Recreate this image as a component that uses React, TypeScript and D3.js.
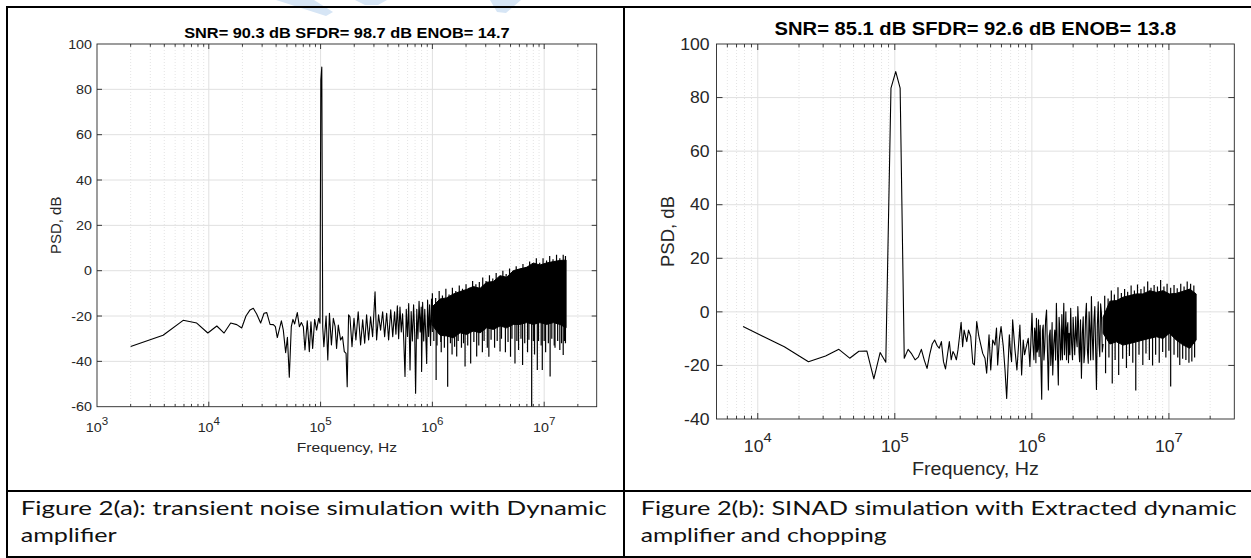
import React from 'react';
import * as d3 from 'd3';

// ---------- texts ----------
const titleA = 'SNR= 90.3 dB SFDR= 98.7 dB ENOB= 14.7';
const titleB = 'SNR= 85.1 dB SFDR= 92.6 dB ENOB= 13.8';
const xLabel = 'Frequency, Hz';
const yLabel = 'PSD, dB';
const captionA = ['Figure 2(a): transient noise simulation with Dynamic', 'amplifier'];
const captionB = ['Figure 2(b): SINAD simulation with Extracted dynamic', 'amplifier and chopping'];

// ---------- axes ----------
const xDomainA = [1e3, 2.95e7];
const yDomainA = [-60, 100];
const yTicksA = [-60, -40, -20, 0, 20, 40, 60, 80, 100];
const xDomainB = [5e3, 3e7];
const yDomainB = [-40, 100];
const yTicksB = [-40, -20, 0, 20, 40, 60, 80, 100];

// ---------- panel (a) data: [Hz, dB] ----------
const lineA: [number, number][] = [
  [2000, -33.4], [3900, -28.5], [5900, -21.9], [7800, -23.1], [9800, -27.5], [11800, -24.4],
  [13700, -27.5], [15700, -23.1], [17800, -23.8], [19700, -25.3], [21500, -20], [23400, -17.3],
  [25000, -16.6], [26800, -19.1], [29100, -23.1], [31200, -18.8], [33000, -18.5], [35300, -23.7],
  [37800, -23.8], [39400, -24.7], [41000, -29.5], [44600, -22.1], [46400, -26.2], [48700, -36.2],
  [50500, -29.4], [52500, -47.0], [54700, -24.7], [56600, -21.5], [58600, -23.5], [61900, -18.5],
  [64600, -24.7], [67300, -22.9], [70100, -24.7], [72500, -35], [76000, -22.1], [79300, -35.7],
  [82000, -22.5], [84900, -34.3], [88500, -21.5], [92200, -26.2], [96100, -21], [98800, -23.2],
  [100500, 84], [102500, 89.8], [104500, -25], [107000, -33.5], [112000, -20], [116000, -39.4],
  [120000, -18.8], [125000, -32.8], [130000, -21], [135000, -24.7], [139000, -34.3], [144000, -24],
  [151000, -30.6], [157000, -29.1], [163000, -35.7], [169000, -36.5], [173000, -51.2], [178000, -19.5],
  [183000, -20.3], [191000, -33.5], [199000, -21], [207000, -30.6], [217000, -18.1], [228000, -32.8],
  [238000, -21.7], [248000, -32], [258000, -19.5], [269000, -30.6], [280000, -20.3], [292000, -29.1],
  [307000, -9.3], [317000, -30.6], [330000, -19.5], [344000, -26.2], [359000, -18.1], [374000, -29.1],
  [390000, -18.8], [406000, -30.6], [424000, -17.3], [442000, -29.1], [459000, -18.1], [472000, -28],
  [486000, -15.5], [499000, -30], [513000, -16], [527000, -27], [541000, -19], [555000, -31],
  [569000, -46.7], [584000, -17], [599000, -29], [614000, -14.5], [631000, -43.8], [646000, -18],
  [662000, -31], [679000, -15], [695000, -28], [708000, -54.1], [725000, -17], [742000, -30],
  [760000, -13.5], [778000, -27], [795000, -16], [801000, -44.5], [818000, -14], [836000, -31],
  [855000, -17], [872000, -28], [889000, -40.9], [906000, -13], [925000, -29], [944000, -15],
  [963000, -33], [982000, -12.5], [1001000, -27],
];
// dense part: [Hz, upper dB, lower dB] of the solid black core
const bandA: [number, number, number][] = [
  [995000, -16, -24], [1170000, -12.5, -28.5], [1340000, -12, -28.8], [1540000, -10.3, -29.6],
  [1770000, -9.2, -27.4], [2020000, -8.3, -28.1], [2320000, -7.0, -26.6], [2670000, -7.8, -27.4],
  [3060000, -5.1, -25.2], [3510000, -4.8, -25.9], [4030000, -2.2, -24.4], [4610000, -2.9, -25.2],
  [5300000, 0, -23.7], [6070000, 0.8, -23.7], [6970000, 1.5, -22.9], [8000000, 3.4, -23.7],
  [9160000, 2.5, -22.9], [10500000, 3.4, -23.7], [12100000, 4.0, -22.9], [13800000, 4.5, -23.7],
  [15700000, 4.7, -25.2],
];
const dipsA: [number, number][] = [
  [1030000, -31], [1080000, -48.2], [1100000, -33], [1190000, -31.5], [1200000, -36], [1280000, -34],
  [1370000, -51.2], [1450000, -32], [1500000, -37], [1580000, -33.5], [1650000, -37.9], [1700000, -31],
  [1820000, -34], [1900000, -32], [1960000, -42.3], [2070000, -33], [2200000, -40.9], [2350000, -31.5],
  [2490000, -37.9], [2600000, -33], [2800000, -36], [2900000, -31], [3100000, -34], [3200000, -38],
  [3350000, -30.5], [3600000, -34], [3800000, -31], [4030000, -35.7], [4150000, -30], [4500000, -36],
  [4750000, -31.5], [5000000, -38], [5150000, -30], [5480000, -40.9], [5700000, -31], [5900000, -35],
  [6200000, -30], [6410000, -41.6], [6700000, -32], [7100000, -36], [7300000, -30.5], [7730000, -62],
  [8000000, -31], [8200000, -37], [8680000, -43.8], [8900000, -31], [9400000, -33], [9620000, -43.8],
  [10000000, -31], [10300000, -36], [10900000, -32], [11300000, -46.7], [11700000, -30], [12300000, -33],
  [12500000, -34], [13200000, -31], [13800000, -35], [14300000, -32], [14800000, -37.2], [15200000, -31],
  [15500000, -32],
];
const peaksA: [number, number][] = [
  [1000000, -10], [1070000, -12], [1150000, -9], [1230000, -11], [1320000, -8], [1410000, -10.5],
  [1510000, -7.5], [1620000, -9], [1740000, -6.5], [1860000, -8], [2000000, -6], [2140000, -7.5],
  [2290000, -4.5], [2450000, -6], [2630000, -5], [2820000, -3], [3020000, -4.5], [3240000, -2],
  [3470000, -3.5], [3720000, -1], [3980000, -2.5], [4270000, 0], [4570000, -1.5], [4900000, 1],
  [5250000, 0], [5620000, 2], [6030000, 0.5], [6460000, 3], [6920000, 1.5], [7410000, 4],
  [7940000, 3], [8510000, 5.5], [9120000, 3.5], [9770000, 5.5], [10500000, 4.5], [11200000, 6.5],
  [12000000, 5], [12900000, 7], [13800000, 5.5], [14800000, 7], [15500000, 6.5],
];

// ---------- panel (b) data ----------
const lineB: [number, number][] = [
  [7812, -5.5], [15625, -13.0], [23437, -18.6], [31250, -16.5], [39062, -14.0], [46875, -17.3],
  [54687, -14.7], [62500, -14.6], [70312, -25.0], [78125, -15.2], [85937, -18.8], [93750, 83.5],
  [101562, 89.7], [109375, 83.5], [117187, -17.3], [125000, -14.0], [132812, -15.7], [140625, -17.9],
  [148437, -16.9], [156250, -14.0], [164062, -18], [171875, -21.1], [179687, -16], [187500, -12],
  [195312, -10.5], [203125, -12.5], [210937, -13.6], [218750, -11.1], [226562, -18.6], [234375, -21.3],
  [242187, -16], [250000, -11.1], [257812, -17.9], [265625, -14.8], [273437, -16], [281250, -17.9],
  [289062, -14.2], [296875, -9], [304687, -3.9], [312500, -13.0], [320312, -6.8], [335000, -11.1],
  [345000, -6.8], [358000, -9.2], [371000, -19.2], [381000, -19.8], [396000, -3.6], [410000, -9],
  [419000, -11.1], [438000, -15.5], [455000, -17.3], [468000, -22.9], [487000, -8.6], [501000, -21.7],
  [518000, -10.5], [538000, -12.4], [552000, -6], [563000, -19.8], [580000, -10], [596000, -5.5],
  [619000, -13.0], [637000, -21.7], [655000, -32.3], [685000, -8.6], [698000, -15], [711000, -18.6],
  [724000, -3.0], [753000, -14.2], [778000, -21.7], [818000, -4.9], [842000, -23.6], [865000, -10.5],
  [885000, -16], [905000, -13.6], [941000, -9.9], [968000, -20.4], [1002000, -0.5], [1018000, -12],
  [1035000, -17.9], [1048000, -6], [1060000, -8], [1070000, -19], [1080000, -2.4], [1092000, -15],
  [1105000, -14], [1118000, -3], [1130000, -16.7], [1140000, -9], [1150000, -5], [1165000, -20],
  [1180000, -32.6], [1195000, -7], [1210000, -4.9], [1225000, -18], [1240000, -14], [1260000, -3],
  [1280000, 0.7], [1300000, -15], [1320000, -29.2], [1340000, -9], [1360000, -6.8], [1375000, -20],
  [1390000, -15], [1405000, -4], [1420000, -23.6], [1445000, -12], [1470000, -6.8], [1490000, -18],
  [1510000, 3.2], [1535000, -14], [1560000, -27.3], [1580000, -2], [1600000, -6.8], [1620000, -18],
  [1640000, -12], [1655000, -1], [1670000, -17.9], [1690000, -8], [1710000, 3.2], [1730000, -16],
  [1750000, -10], [1770000, 0], [1790000, -17.9], [1810000, -6], [1830000, -4], [1850000, -19],
  [1870000, -8.0], [1895000, -16], [1920000, 1.3], [1950000, -12], [1980000, -17.9], [2000000, -2],
  [2020000, -6.8], [2055000, -16], [2090000, -1.8], [2115000, -10], [2140000, -13.0], [2165000, 2],
  [2190000, -4.3], [2210000, -15], [2230000, -18.6], [2265000, -3], [2300000, -24.8], [2335000, -8],
  [2370000, -1.8], [2400000, -19], [2430000, -15.5], [2465000, -2], [2500000, 3.2], [2540000, -14],
  [2580000, -19.2], [2615000, 0], [2650000, -6.8], [2685000, -18], [2720000, 5.7], [2760000, -9],
  [2800000, -17.9], [2840000, -3], [2880000, 2.0], [2920000, -14], [2960000, -29], [3005000, -5],
  [3050000, 3.8], [3090000, -12], [3130000, -16.7], [3175000, 3], [3220000, -0.5], [3265000, -15],
  [3310000, -12],
];
const bandB: [number, number, number][] = [
  [3310000, -2, -8], [3710000, 4, -12], [4140000, 4.2, -11.2], [4630000, 5.5, -12.4],
  [5180000, 6.1, -11.8], [5790000, 6.7, -11.2], [6480000, 6.7, -10.5], [7240000, 7.9, -9.9],
  [8100000, 7.3, -9.3], [9060000, 7.9, -9.9], [10100000, 6.7, -8.0], [11300000, 6.9, -10.5],
  [12700000, 7.7, -12.4], [14200000, 8.5, -13.6], [15800000, 6.7, -10.5],
];
const dipsB: [number, number][] = [
  [3450000, -22.9], [3650000, -17], [3860000, -26.7], [4050000, -18], [4300000, -23.6], [4600000, -17.5],
  [4900000, -21], [5150000, -16.5], [5450000, -19], [5730000, -29.4], [6050000, -16], [6450000, -19.8],
  [6800000, -15.5], [7200000, -18], [7600000, -20], [8000000, -16], [8500000, -19], [9000000, -15],
  [9500000, -17], [10000000, -14.5], [10300000, -27.9], [10900000, -16], [11600000, -17], [12000000, -19.8],
  [12600000, -17.5], [13300000, -18], [14000000, -19], [14700000, -18.5], [15400000, -17],
];
const peaksB: [number, number][] = [
  [3400000, 6], [3600000, 5], [3800000, 8], [4000000, 6.5], [4250000, 9.2], [4500000, 7],
  [4750000, 8.5], [5000000, 7.5], [5300000, 9.8], [5600000, 8], [5900000, 10.2], [6250000, 8.5],
  [6600000, 9.5], [7000000, 11.3], [7400000, 9], [7800000, 10], [8250000, 9.5], [8700000, 11.9],
  [9200000, 9.5], [9700000, 10.5], [10300000, 9], [10900000, 10], [11500000, 8.8], [12200000, 10.5],
  [12900000, 9.5], [13600000, 11.3], [14400000, 10.5], [15200000, 9.8],
];

// ---------- watermark polygons (page px) ----------
const watermark: [number, number][][] = [
  [[276, 0], [314, 0], [333, 12], [326, 16]],
  [[355, 0], [387, 0], [378, 5], [365, 5]],
  [[490, 0], [521, 0], [506, 13], [497, 12]],
];

const FONT = '"Liberation Sans", Arial, Helvetica, sans-serif';
const AX = '#262626';

type Cfg = {
  id: string;
  xDomain: number[]; yDomain: number[]; yTicks: number[];
  left: number; right: number; top: number; bottom: number;
  title: string; titleY: number; titleSize: number; titleSx: number;
  tickSize: number; tickSx: number; tickGap: number;
  xTickBase: number; supSize: number; supDy: number;
  labelSize: number; labelSx: number; xLabelY: number; yLabelX: number; yLabelSize: number;
  majorLen: number; minorLen: number;
  line: [number, number][]; band: [number, number, number][];
  dips: [number, number][]; peaks: [number, number][];
};

function Panel({ c }: { c: Cfg }) {
  const x = d3.scaleLog().domain(c.xDomain).range([c.left, c.right]);
  const y = d3.scaleLinear().domain(c.yDomain).range([c.bottom, c.top]);
  const xt = x.ticks();
  const isMajor = (t: number) => Math.abs(Math.log10(t) - Math.round(Math.log10(t))) < 1e-9;
  const major = xt.filter(isMajor);
  const minor = xt.filter((t) => !isMajor(t));
  const inside = (t: number) => t > c.xDomain[0] * 1.001 && t < c.xDomain[1] * 0.999;
  const line = d3.line<[number, number]>().x((d) => x(d[0])).y((d) => y(d[1]));
  const area = d3.area<[number, number, number]>().x((d) => x(d[0])).y0((d) => y(d[2])).y1((d) => y(d[1]));
  const mid = (f: number) => {
    const r = d3.least(c.band, (b) => Math.abs(Math.log(b[0] / f)))!;
    return (r[1] + r[2]) / 2;
  };
  const cx = (c.left + c.right) / 2;
  const cy = (c.top + c.bottom) / 2;
  return (
    <g>
      <defs>
        <clipPath id={`clip-${c.id}`}>
          <rect x={c.left} y={c.top} width={c.right - c.left} height={c.bottom - c.top} />
        </clipPath>
      </defs>
      {minor.filter(inside).map((t) => (
        <line key={`mg${t}`} x1={x(t)} x2={x(t)} y1={c.top} y2={c.bottom} stroke="#d9d9d9" strokeWidth={0.7} strokeDasharray="1,2" />
      ))}
      {major.filter(inside).map((t) => (
        <line key={`Mg${t}`} x1={x(t)} x2={x(t)} y1={c.top} y2={c.bottom} stroke="#e0e0e0" strokeWidth={1} />
      ))}
      {c.yTicks.filter((v) => v > c.yDomain[0] && v < c.yDomain[1]).map((v) => (
        <line key={`yg${v}`} x1={c.left} x2={c.right} y1={y(v)} y2={y(v)} stroke="#e0e0e0" strokeWidth={1} />
      ))}
      <g clipPath={`url(#clip-${c.id})`}>
        <path d={area(c.band) || ''} fill="#000" stroke="#000" strokeWidth={1} strokeLinejoin="round" />
        <path d={line(c.line) || ''} fill="none" stroke="#000" strokeWidth={1.1} strokeLinejoin="round" />
        {c.dips.concat(c.peaks).map((d, i) => (
          <line key={`sp${i}`} x1={x(d[0])} x2={x(d[0])} y1={y(mid(d[0]))} y2={y(d[1])} stroke="#000" strokeWidth={1.2} />
        ))}
      </g>
      <rect x={c.left} y={c.top} width={c.right - c.left} height={c.bottom - c.top} fill="none" stroke={AX} strokeWidth={0.9} />
      {xt.filter(inside).map((t) => {
        const L = isMajor(t) ? c.majorLen : c.minorLen;
        return (
          <g key={`xt${t}`}>
            <line x1={x(t)} x2={x(t)} y1={c.bottom} y2={c.bottom - L} stroke={AX} strokeWidth={0.9} />
            <line x1={x(t)} x2={x(t)} y1={c.top} y2={c.top + L} stroke={AX} strokeWidth={0.9} />
          </g>
        );
      })}
      {c.yTicks.filter((v) => v > c.yDomain[0] && v < c.yDomain[1]).map((v) => (
        <g key={`yt${v}`}>
          <line x1={c.left} x2={c.left + c.majorLen} y1={y(v)} y2={y(v)} stroke={AX} strokeWidth={0.9} />
          <line x1={c.right} x2={c.right - c.majorLen} y1={y(v)} y2={y(v)} stroke={AX} strokeWidth={0.9} />
        </g>
      ))}
      {c.yTicks.map((v) => (
        <text key={`yl${v}`} transform={`translate(${c.left - c.tickGap},${y(v)}) scale(${c.tickSx},1)`}
          textAnchor="end" dy="0.36em" fontFamily={FONT} fontSize={c.tickSize} fill={AX}>{String(v)}</text>
      ))}
      {major.map((t) => (
        <text key={`xl${t}`} transform={`translate(${x(t)},${c.xTickBase}) scale(${c.tickSx},1)`}
          textAnchor="middle" fontFamily={FONT} fontSize={c.tickSize} fill={AX}>
          10<tspan dy={c.supDy} fontSize={c.supSize}>{String(Math.round(Math.log10(t)))}</tspan>
        </text>
      ))}
      <text transform={`translate(${cx},${c.xLabelY}) scale(${c.labelSx},1)`} textAnchor="middle"
        fontFamily={FONT} fontSize={c.labelSize} fill={AX}>{xLabel}</text>
      <text transform={`translate(${c.yLabelX},${cy}) rotate(-90)`} textAnchor="middle"
        fontFamily={FONT} fontSize={c.yLabelSize} fill={AX}>{yLabel}</text>
      <text transform={`translate(${cx},${c.titleY}) scale(${c.titleSx},1)`} textAnchor="middle"
        fontFamily={FONT} fontSize={c.titleSize} fontWeight="bold" fill="#000">{c.title}</text>
    </g>
  );
}

const cfgA: Cfg = {
  id: 'a', xDomain: xDomainA, yDomain: yDomainA, yTicks: yTicksA,
  left: 97, right: 596.7, top: 44, bottom: 406.7,
  title: titleA, titleY: 37.5, titleSize: 15, titleSx: 1.09,
  tickSize: 13, tickSx: 1.1, tickGap: 5,
  xTickBase: 431.7, supSize: 10.5, supDy: -6.7,
  labelSize: 13, labelSx: 1.2, xLabelY: 452, yLabelX: 61, yLabelSize: 15,
  majorLen: 5, minorLen: 2.8,
  line: lineA, band: bandA, dips: dipsA, peaks: peaksA,
};
const cfgB: Cfg = {
  id: 'b', xDomain: xDomainB, yDomain: yDomainB, yTicks: yTicksB,
  left: 716.5, right: 1234.3, top: 44, bottom: 419,
  title: titleB, titleY: 35, titleSize: 18.5, titleSx: 1.09,
  tickSize: 16, tickSx: 1.1, tickGap: 7,
  xTickBase: 451.7, supSize: 13.5, supDy: -10,
  labelSize: 17.5, labelSx: 1.13, xLabelY: 475, yLabelX: 674, yLabelSize: 18.5,
  majorLen: 6, minorLen: 3.3,
  line: lineB, band: bandB, dips: dipsB, peaks: peaksB,
};

const CAP_FONT = 'Lato, "Open Sans", "Noto Sans", sans-serif';

export default function App() {
  return (
    <svg width={1251} height={558} viewBox="0 0 1251 558"
      style={{ position: 'absolute', left: 0, top: 0, background: '#fff', display: 'block' }}>
      <rect x={0} y={0} width={1251} height={558} fill="#fff" />
      {watermark.map((p, i) => (
        <polygon key={`wm${i}`} points={p.map((q) => q.join(',')).join(' ')} fill="#d6e5f5" />
      ))}
      <Panel c={cfgA} />
      <Panel c={cfgB} />
      <g stroke="#000" strokeWidth={2}>
        <line x1={6} x2={1251} y1={7} y2={7} />
        <line x1={7} x2={7} y1={6} y2={558} />
        <line x1={624} x2={624} y1={6} y2={558} />
        <line x1={6} x2={1251} y1={491} y2={491} />
        <line x1={6} x2={1251} y1={557} y2={557} />
      </g>
      <g fontFamily={CAP_FONT} fontSize={19} fill="#111">
        <text x={20.7} y={515} textLength={586} lengthAdjust="spacingAndGlyphs">{captionA[0]}</text>
        <text x={20.7} y={541.5} textLength={96} lengthAdjust="spacingAndGlyphs">{captionA[1]}</text>
        <text x={640.7} y={515} textLength={596} lengthAdjust="spacingAndGlyphs">{captionB[0]}</text>
        <text x={640.7} y={541.5} textLength={246} lengthAdjust="spacingAndGlyphs">{captionB[1]}</text>
      </g>
    </svg>
  );
}
